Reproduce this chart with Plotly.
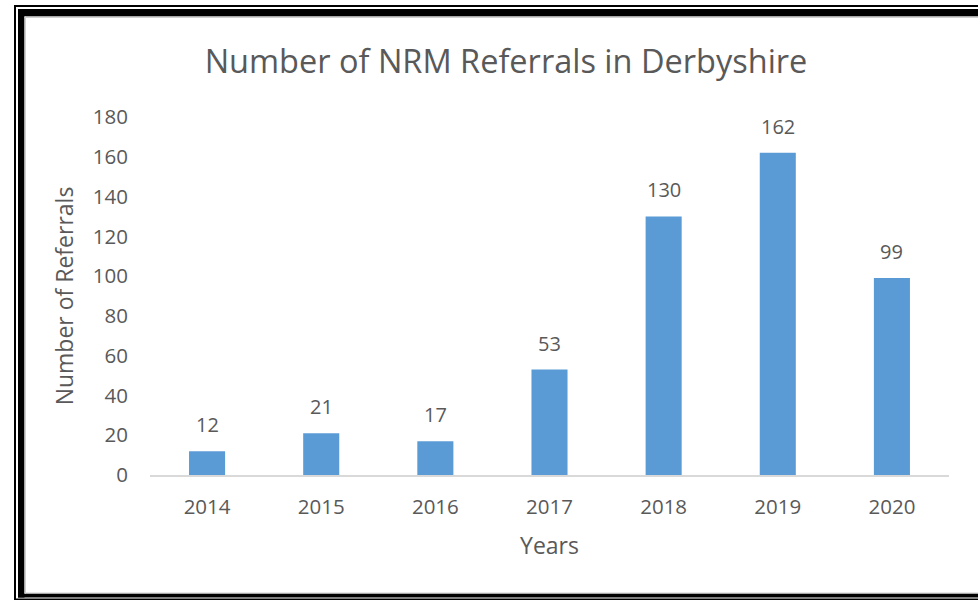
import plotly.graph_objects as go

years = ["2014", "2015", "2016", "2017", "2018", "2019", "2020"]
referrals = [12, 21, 17, 53, 130, 162, 99]
y_ticks = [0, 20, 40, 60, 80, 100, 120, 140, 160, 180]

W, H = 978, 600
L, R, T, B = 150, 29, 117, 125
PW, PH = W - L - R, H - T - B

def px(x):
    return (x - L) / PW

def py(y):
    return (H - B - y) / PH

txt = "#595959"
font = "Open Sans"

fig = go.Figure(go.Bar(
    x=years, y=referrals,
    marker=dict(color="#5B9BD5", line=dict(width=0)),
    cliponaxis=False,
))

annotations = [
    dict(x=i, y=v, text=str(v), xref="x", yref="y", showarrow=False,
         yanchor="bottom", yshift=11, font=dict(size=20, color=txt, family=font))
    for i, v in enumerate(referrals)
]

shapes = []
def rect(x0, y0, x1, y1, color="black"):
    shapes.append(dict(type="rect", xref="paper", yref="paper",
                       x0=px(x0), x1=px(x1), y0=py(y0), y1=py(y1),
                       fillcolor=color, line=dict(width=0), layer="above"))

# double border (thin outer, thick inner), right side cut off
rect(14, 5, 16, 600)         # left thin
rect(14, 5, 980, 7)          # top thin
rect(14, 598.5, 980, 600)    # bottom thin
rect(18, 9, 24.5, 597.5)     # left thick
rect(18, 9, 980, 16.5)       # top thick
rect(18, 593.5, 980, 597.5)  # bottom thick
rect(24.5, 16.5, 26, 593.5, "#D0D0D0")  # inner gray left
rect(24.5, 16.5, 980, 18, "#D0D0D0")    # inner gray top
rect(24.5, 592.5, 980, 593.5, "#D0D0D0")  # inner gray bottom

fig.update_layout(
    width=W, height=H,
    margin=dict(l=L, r=R, t=T, b=B),
    paper_bgcolor="white", plot_bgcolor="white",
    bargap=0.684,
    showlegend=False,
    shapes=shapes,
    annotations=annotations,
    title=dict(text="Number of NRM Referrals in Derbyshire",
               x=(506) / W, xanchor="center", y=1 - 62 / H, yanchor="middle",
               font=dict(size=32.5, color=txt, family=font)),
    xaxis=dict(
        type="category", range=[-0.5, len(years) - 0.5],
        showline=True, linecolor="#D9D9D9", linewidth=1.5,
        showgrid=False, ticks="", tickfont=dict(size=20.5, color=txt, family=font),
        ticklabelstandoff=13,
        title=dict(text="Years", font=dict(size=23, color=txt, family=font), standoff=19),
    ),
    yaxis=dict(
        range=[0, 180], tickvals=y_ticks, showgrid=False, showline=False,
        zeroline=False, ticks="", tickfont=dict(size=20.5, color=txt, family=font),
        ticklabelstandoff=21,
        title=dict(text="Number of Referrals", font=dict(size=23, color=txt, family=font), standoff=12),
    ),
)

fig.write_html("out.html")
